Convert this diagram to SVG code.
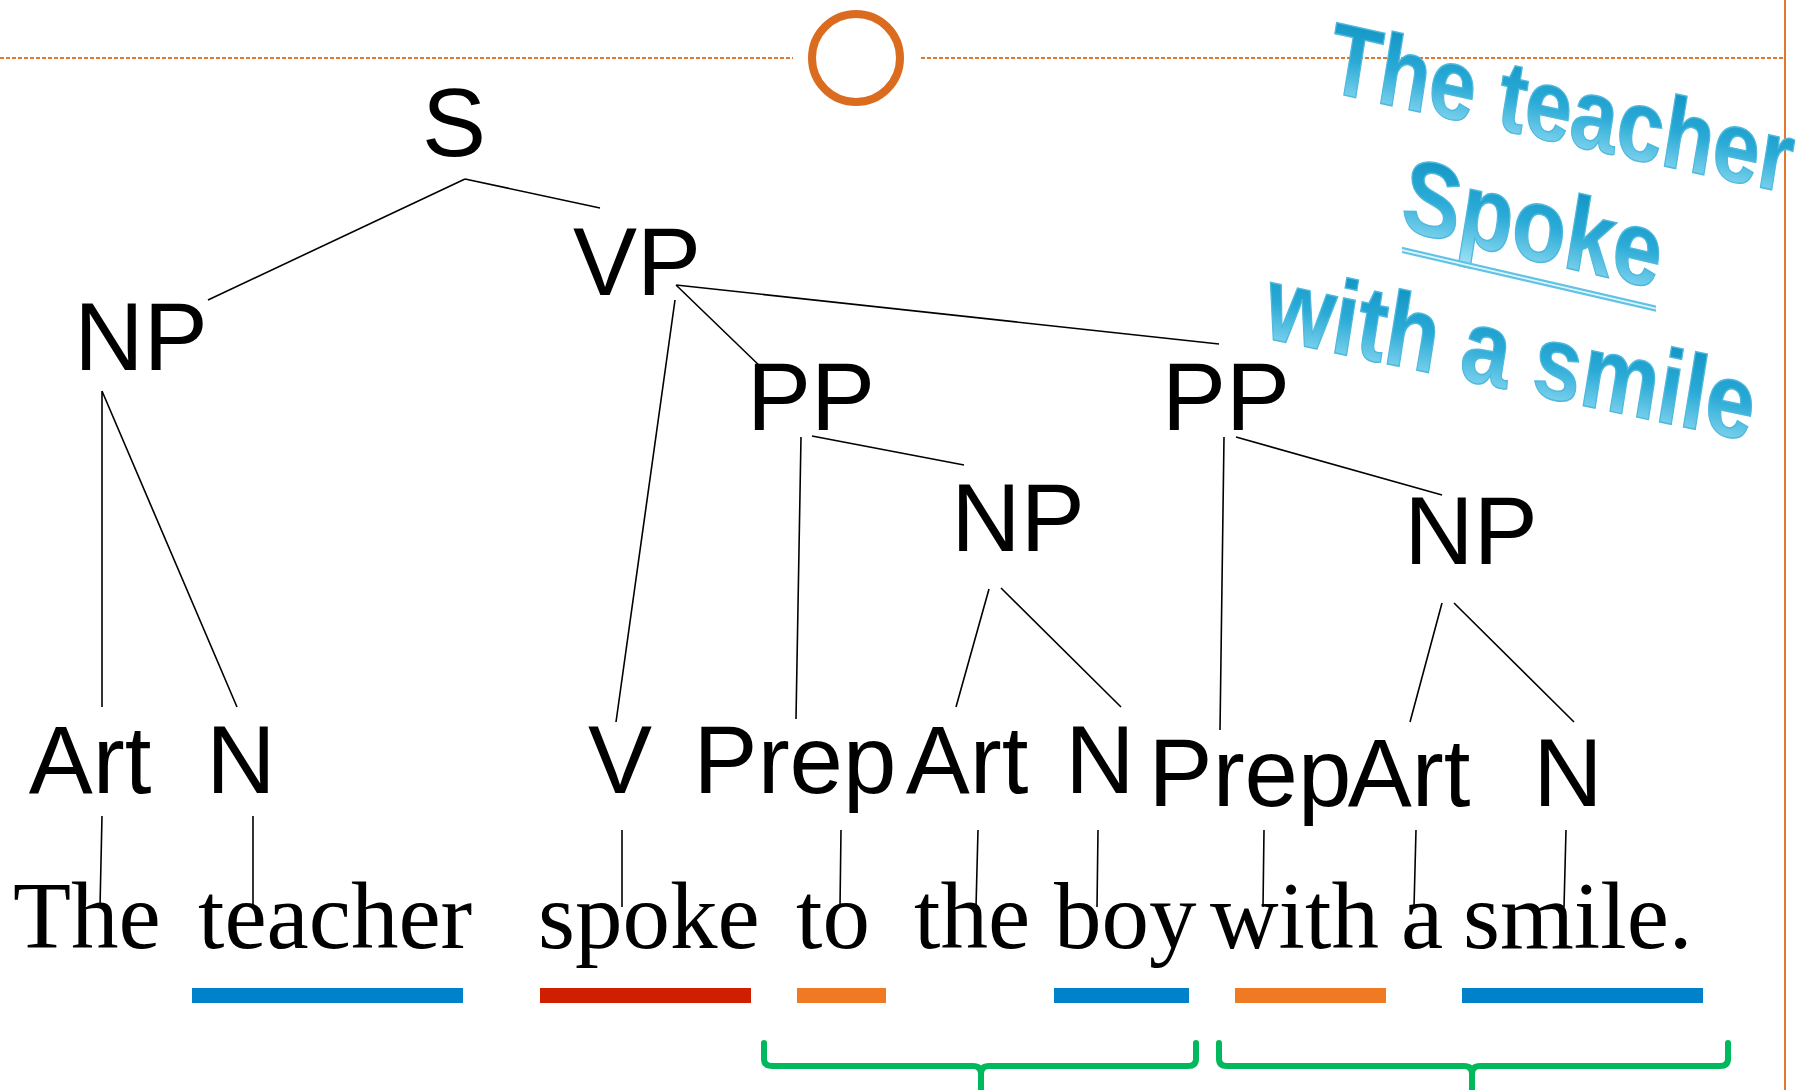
<svg xmlns="http://www.w3.org/2000/svg" width="1812" height="1090" viewBox="0 0 1812 1090">
<style>
.lbl{font-family:"Liberation Sans",Arial,sans-serif;font-size:96px;fill:#000;text-anchor:middle}
.word{font-family:"Liberation Serif","Times New Roman",serif;font-size:95px;fill:#000}
.edge{stroke:#000;stroke-width:1.6;fill:none}
.bar{stroke:none}
.brace{stroke:#00B95C;stroke-width:6;fill:none;stroke-linecap:round;stroke-linejoin:round}
.wa{font-family:"Liberation Sans",Arial,sans-serif;font-weight:bold;font-style:italic;font-size:86px;fill:url(#wag);stroke:#4FB9DD;stroke-width:1.2;text-anchor:middle}
</style>
<defs>
<linearGradient id="wag" x1="0" y1="0" x2="0" y2="1">
<stop offset="0" stop-color="#0A8DBE"/>
<stop offset="0.5" stop-color="#2AAAD6"/>
<stop offset="1" stop-color="#A3E5F8"/>
</linearGradient>
</defs>
<rect width="1812" height="1090" fill="#fff"/>
<g id="frame">
<line x1="0" y1="58" x2="793" y2="58" stroke="#E0782E" stroke-width="2" stroke-dasharray="4 2"/>
<line x1="921" y1="58" x2="1785" y2="58" stroke="#E0782E" stroke-width="2" stroke-dasharray="4 2"/>
<line x1="1785" y1="0" x2="1785" y2="1090" stroke="#E0782E" stroke-width="2"/>
<circle cx="856" cy="58" r="44" fill="none" stroke="#DB6C1F" stroke-width="8"/>
</g>
<g id="wordart">
<g transform="translate(1560,143) skewY(12.5) scale(1,1.2)"><text class="wa" x="0" y="0" textLength="462" lengthAdjust="spacingAndGlyphs">The teacher</text></g>
<g transform="translate(1532,260) skewY(13) scale(1,1.25)"><text class="wa" x="0" y="0">Spoke</text>
<line x1="-130" y1="16" x2="124" y2="16" stroke="#62C2E4" stroke-width="5"/>
<line x1="-130" y1="16" x2="124" y2="16" stroke="#DDF6FD" stroke-width="1.5"/></g>
<g transform="translate(1510,390) skewY(12) scale(1,1.25)"><text class="wa" x="0" y="0">with a smile</text></g>
</g>
<g id="connectors">
<path class="edge" d="M465,179 L208,300 M465,179 L600,208"/>
<path class="edge" d="M675,300 L616,722 M676,285 L764,370 M676,285 L1219,344"/>
<path class="edge" d="M102,391 L102,707 M102,391 L237,707"/>
<path class="edge" d="M801,437 L796,719 M812,436 L964,465"/>
<path class="edge" d="M989,589 L956,707 M1001,588 L1121,707"/>
<path class="edge" d="M1224,437 L1220,730 M1236,437 L1442,495"/>
<path class="edge" d="M1442,603 L1410,722 M1454,603 L1574,722"/>
<path class="edge" d="M102,816 L100,907 M253,816 L253,907 M622,830 L622,907 M841,830 L840,907 M978,830 L976,907 M1098,830 L1097,907 M1264,830 L1263,907 M1416,830 L1414,907 M1566,830 L1564,907"/>
</g>
<g id="n-S"><text class="lbl" x="454" y="156">S</text></g>
<g id="n-NP1"><text class="lbl" x="141" y="370">NP</text></g>
<g id="n-VP"><text class="lbl" x="637" y="295">VP</text></g>
<g id="n-PP1"><text class="lbl" x="811" y="430">PP</text></g>
<g id="n-PP2"><text class="lbl" x="1226" y="430">PP</text></g>
<g id="n-NP2"><text class="lbl" x="1018" y="551">NP</text></g>
<g id="n-NP3"><text class="lbl" x="1471" y="564">NP</text></g>
<g id="n-Art1"><text class="lbl" x="90" y="793">Art</text></g>
<g id="n-N1"><text class="lbl" x="241" y="793">N</text></g>
<g id="n-V"><text class="lbl" x="620" y="793">V</text></g>
<g id="n-Prep1"><text class="lbl" x="795" y="793">Prep</text></g>
<g id="n-Art2"><text class="lbl" x="967" y="793">Art</text></g>
<g id="n-N2"><text class="lbl" x="1100" y="793">N</text></g>
<g id="n-Prep2"><text class="lbl" x="1250" y="806">Prep</text></g>
<g id="n-Art3"><text class="lbl" x="1409" y="806">Art</text></g>
<g id="n-N3"><text class="lbl" x="1568" y="806">N</text></g>
<g id="sentence">
<text class="word" x="13" y="948">The</text>
<text class="word" x="198" y="948">teacher</text>
<text class="word" x="538" y="948">spoke</text>
<text class="word" x="796" y="948">to</text>
<text class="word" x="914" y="948">the</text>
<text class="word" x="1054" y="948">boy</text>
<text class="word" x="1210" y="948">with</text>
<text class="word" x="1401" y="948">a</text>
<text class="word" x="1463" y="948">smile.</text>
</g>
<g id="bars">
<rect class="bar" x="192" y="988" width="271" height="15" fill="#0082CA"/>
<rect class="bar" x="540" y="988" width="211" height="15" fill="#CF1F00"/>
<rect class="bar" x="797" y="988" width="89" height="15" fill="#F07A24"/>
<rect class="bar" x="1054" y="988" width="135" height="15" fill="#0082CA"/>
<rect class="bar" x="1235" y="988" width="151" height="15" fill="#F07A24"/>
<rect class="bar" x="1462" y="988" width="241" height="15" fill="#0082CA"/>
</g>
<g id="braces">
<path class="brace" d="M764,1043 V1059 Q764,1066 772,1066 H973 Q981,1066 981,1074 V1092 M981,1074 Q981,1066 989,1066 H1188 Q1196,1066 1196,1059 V1043"/>
<path class="brace" d="M1219,1043 V1059 Q1219,1066 1227,1066 H1464 Q1472,1066 1472,1074 V1092 M1472,1074 Q1472,1066 1480,1066 H1720 Q1728,1066 1728,1059 V1043"/>
</g>
</svg>
